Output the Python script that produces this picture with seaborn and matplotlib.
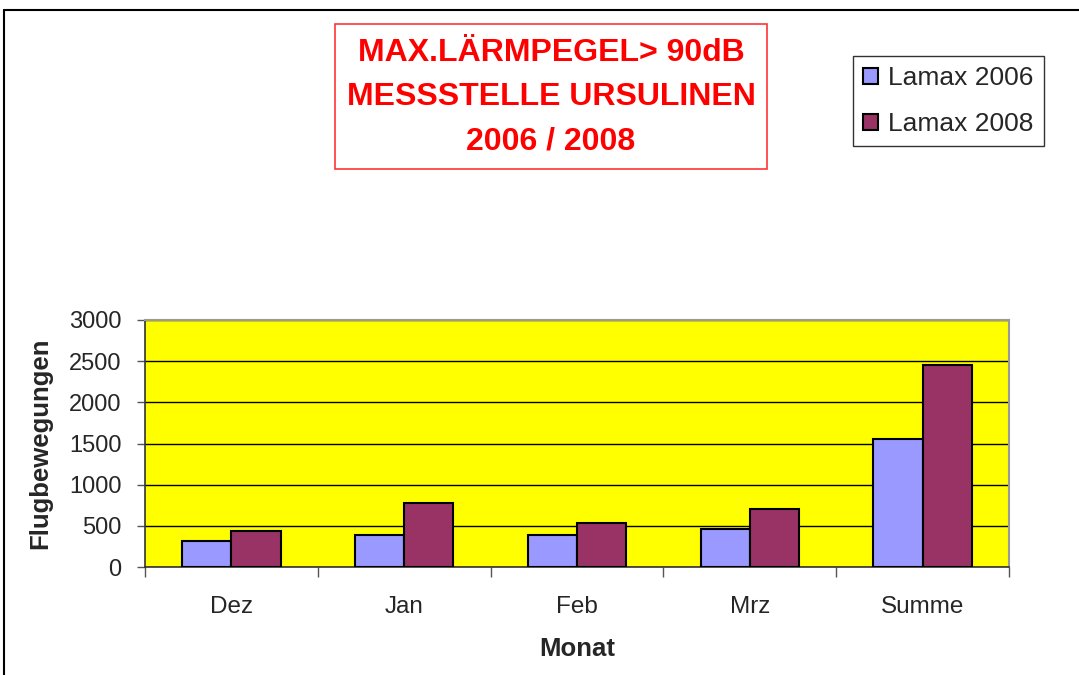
import matplotlib
matplotlib.use("Agg")
import matplotlib.pyplot as plt
from matplotlib.lines import Line2D
from matplotlib.patches import Rectangle
import pandas as pd
import seaborn as sns

# data
monate = ["Dez", "Jan", "Feb", "Mrz", "Summe"]
lamax_2006 = [320, 390, 390, 460, 1560]
lamax_2008 = [440, 780, 535, 700, 2455]
serien = ["Lamax 2006", "Lamax 2008"]
farben = ["#9999FF", "#993366"]
y_ticks = [0, 500, 1000, 1500, 2000, 2500, 3000]

df = pd.DataFrame({
    "Monat": monate * 2,
    "Wert": lamax_2006 + lamax_2008,
    "Serie": [serien[0]] * len(monate) + [serien[1]] * len(monate),
})

sns.set_style("white")
plt.rcParams["font.family"] = ["Liberation Sans", "DejaVu Sans"]

W, H = 1079, 675
fig = plt.figure(figsize=(W / 100, H / 100), dpi=100)
fig.patch.set_facecolor("white")

# plot area in pixels: x 145..1009, y 320..567
ax = fig.add_axes([145 / W, 1 - 567 / H, 864 / W, 247 / H])
ax.set_facecolor("#FFFF00")

sns.barplot(data=df, x="Monat", y="Wert", hue="Serie", palette=farben,
            width=0.57, gap=0, edgecolor="black", linewidth=1.5,
            saturation=1, ax=ax, zorder=3)

ax.set_ylim(0, 3000)
ax.set_xlim(-0.5, len(monate) - 0.5)
ax.set_yticks(y_ticks)
ax.set_yticklabels([str(v) for v in y_ticks], fontsize=17)
ax.yaxis.grid(True, color="black", linewidth=1, zorder=0)
ax.set_axisbelow(True)
ax.tick_params(axis="y", direction="out", length=6, width=1, color="#555555", pad=11, left=True)

# category separators as major ticks, names as minor ticks
ax.set_xticks([i - 0.5 for i in range(len(monate) + 1)])
ax.set_xticklabels([])
ax.set_xticks(range(len(monate)), minor=True)
ax.set_xticklabels(monate, minor=True, fontsize=17.5)
ax.tick_params(axis="x", which="major", direction="out", length=7, width=1, color="#555555", bottom=True)
ax.tick_params(axis="x", which="minor", length=0, pad=21)

for side in ["left", "bottom"]:
    ax.spines[side].set_color("#333333")
    ax.spines[side].set_linewidth(1.2)
for side in ["top", "right"]:
    ax.spines[side].set_color("#999999")
    ax.spines[side].set_linewidth(1.5)

ax.set_xlabel("Monat", fontsize=18.5, fontweight="bold")
ax.set_ylabel("Flugbewegungen", fontsize=18.5, fontweight="bold")
ax.xaxis.set_label_coords(0.5, (567 - 637) / 247)
ax.yaxis.set_label_coords((52 - 145) / 864, 0.5)

leg = ax.legend(loc="upper left", bbox_to_anchor=(853 / W, 1 - 56 / H),
                bbox_transform=fig.transFigure, fontsize=19, frameon=True,
                fancybox=False, edgecolor="black", handlelength=0.55,
                handleheight=0.55, handletextpad=0.4, labelspacing=0.85,
                borderpad=0.38, borderaxespad=0)
leg.get_frame().set_linewidth(1)
for h in leg.legend_handles:
    h.set_edgecolor("black")
    h.set_linewidth(1.5)

# title box
fig.patches.append(Rectangle((335 / W, 1 - 169 / H), 432 / W, 145 / H,
                             transform=fig.transFigure, facecolor="white",
                             edgecolor="#FF3333", linewidth=1.2))
fig.text(551 / W, 1 - 97 / H,
         "MAX.LÄRMPEGEL> 90dB\nMESSSTELLE URSULINEN\n2006 / 2008",
         ha="center", va="center", color="#FF0000", fontsize=23,
         fontweight="bold", linespacing=1.62)

# outer chart frame (cut at right and bottom)
fig.add_artist(Line2D([4 / W, 1], [1 - 9.5 / H, 1 - 9.5 / H], color="black", linewidth=1.5,
                      transform=fig.transFigure))
fig.add_artist(Line2D([4 / W, 4 / W], [0, 1 - 9.5 / H], color="black", linewidth=1.5,
                      transform=fig.transFigure))

fig.savefig("out.png", dpi=100)
